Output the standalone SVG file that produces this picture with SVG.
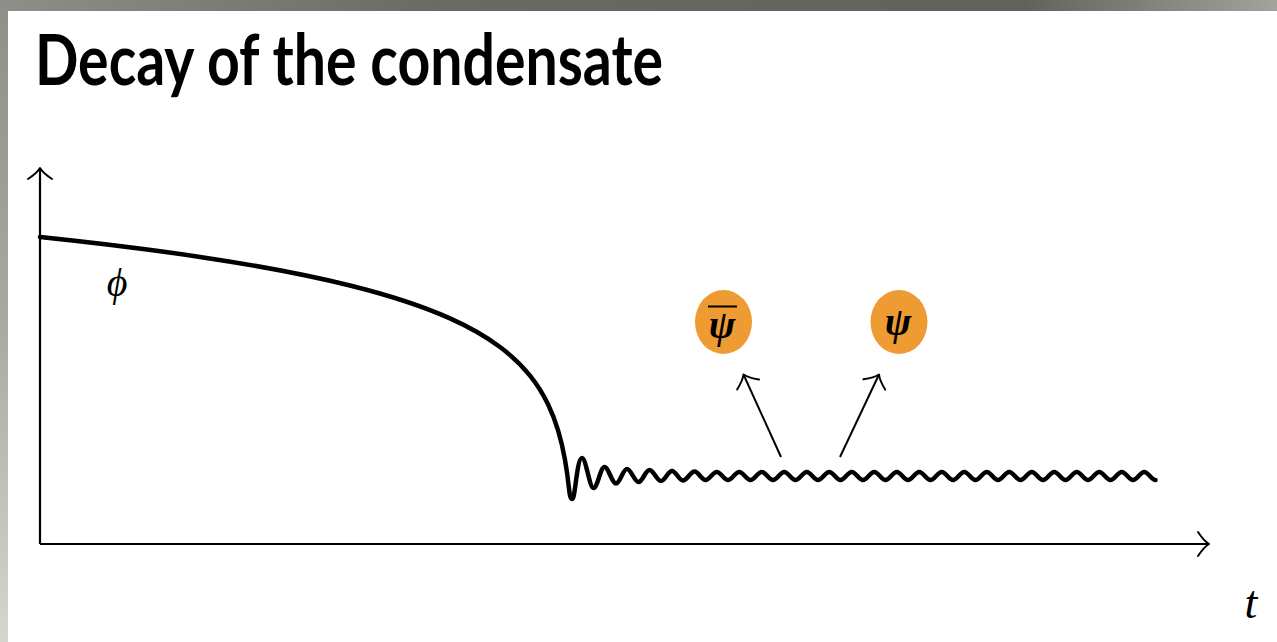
<svg xmlns="http://www.w3.org/2000/svg" width="1277" height="642" viewBox="0 0 1277 642">
<defs>
<linearGradient id="topBand" x1="0" y1="0" x2="1" y2="0">
<stop offset="0" stop-color="#8f8e88"/>
<stop offset="0.35" stop-color="#6a6964"/>
<stop offset="0.8" stop-color="#62615c"/>
<stop offset="1" stop-color="#a3a29c"/>
</linearGradient>
<linearGradient id="leftBand" x1="0" y1="0" x2="0" y2="1">
<stop offset="0" stop-color="#8f8e88"/>
<stop offset="0.5" stop-color="#a9a8a2"/>
<stop offset="1" stop-color="#d6d5cf"/>
</linearGradient>
<marker id="head" viewBox="-14 -15 16 30" refX="0" refY="0" markerWidth="16" markerHeight="30" markerUnits="userSpaceOnUse" orient="auto" overflow="visible">
<path d="M-11,-12 Q-5,-3 0,0 Q-5,3 -11,12" fill="none" stroke="#000" stroke-width="2" stroke-linecap="round" stroke-linejoin="round"/>
</marker>
</defs>
<style>
.axis{fill:none;stroke:#000;stroke-width:2.2;marker-end:url(#head)}
.arrow{fill:none;stroke:#000;stroke-width:2;marker-end:url(#head)}
.curve{fill:none;stroke:#000;stroke-width:4.5;stroke-linecap:round;stroke-linejoin:round}
.ball{fill:#ED9B32}
.greek{font-family:"Liberation Serif","DejaVu Serif",serif;font-style:italic;fill:#000}
.title{font-family:Lato,"Liberation Sans",sans-serif;font-weight:700;fill:#000}
</style>
<rect x="0" y="0" width="1277" height="642" fill="#ffffff"/>
<rect x="0" y="0" width="8" height="642" fill="url(#leftBand)"/>
<rect x="0" y="0" width="1277" height="11" fill="url(#topBand)"/>

<text class="title" x="35" y="85" font-size="71" textLength="628" lengthAdjust="spacingAndGlyphs">Decay of the condensate</text>

<g id="connectors">
<path class="axis" d="M40,544 V168"/>
<path class="axis" d="M40,544 H1209"/>
<path class="arrow" d="M781,457 L743.5,374.5"/>
<path class="arrow" d="M840,457 L879,374.5"/>
</g>

<g id="condensate">
<path class="curve" d="M40,237 C93.33,242.58 146.67,248.94 200,256.9 C250,264.37 300,273.05 350,285.5 C383.33,293.8 416.67,303.47 450,318.4 C466.67,325.87 483.33,334.56 500,347 C510,354.47 520,363.16 530,375.6 C536,383.07 542,391.76 548,404.2 C551.33,411.11 554.67,419.12 558,430.1 C560.33,437.79 562.67,446.83 565,459.9 C566.33,467.37 567.67,476.06 569,488.5 C570,497.8 571,499 572.5,499 C575,499 577,458 582,458 C586,458 589.5,488 593.5,488 C597.5,488 600.5,467 604.5,467 C608.5,467 612,483.5 616,483.5 C620,483.5 623,469 627,469 C631,469 634.5,482 638.5,482 C642.5,482 645.5,470 649.5,470 C653.5,470 657,481 661,481 C665,481 668,471 672,471 C676,471 679,480.5 683,480.5 C687,480.5 690.5,471.5 694.5,471.5 C698.5,471.5 701.5,480 705.5,480 c4,0 7.25,-8 11.25,-8 s7.25,8 11.25,8 s7.25,-8 11.25,-8 s7.25,8 11.25,8 s7.25,-8 11.25,-8 s7.25,8 11.25,8 s7.25,-8 11.25,-8 s7.25,8 11.25,8 s7.25,-8 11.25,-8 s7.25,8 11.25,8 s7.25,-8 11.25,-8 s7.25,8 11.25,8 s7.25,-8 11.25,-8 s7.25,8 11.25,8 s7.25,-8 11.25,-8 s7.25,8 11.25,8 s7.25,-8 11.25,-8 s7.25,8 11.25,8 s7.25,-8 11.25,-8 s7.25,8 11.25,8 s7.25,-8 11.25,-8 s7.25,8 11.25,8 s7.25,-8 11.25,-8 s7.25,8 11.25,8 s7.25,-8 11.25,-8 s7.25,8 11.25,8 s7.25,-8 11.25,-8 s7.25,8 11.25,8 s7.25,-8 11.25,-8 s7.25,8 11.25,8 s7.25,-8 11.25,-8 s7.25,8 11.25,8 s7.25,-8 11.25,-8 s7.25,8 11.25,8 s7.25,-8 11.25,-8 s7.25,8 11.25,8 s7.25,-8 11.25,-8 s7.25,8 11.25,8 s7.25,-8 11.25,-8 s7.25,8 11.25,8"/>
<text class="greek" x="117" y="296" font-size="40" text-anchor="middle">ϕ</text>
</g>

<g id="psibar">
<ellipse class="ball" cx="723.5" cy="322" rx="28.5" ry="32"/>
<line x1="708" y1="306.5" x2="737" y2="306.5" stroke="#000" stroke-width="2"/>
<text class="greek" x="722" y="338" font-size="40" font-weight="700" text-anchor="middle">ψ</text>
</g>

<g id="psi">
<ellipse class="ball" cx="899" cy="322" rx="28.5" ry="32"/>
<text class="greek" x="898" y="335" font-size="40" font-weight="700" text-anchor="middle">ψ</text>
</g>

<text class="greek" x="1251" y="618" font-size="46" text-anchor="middle">t</text>
</svg>
